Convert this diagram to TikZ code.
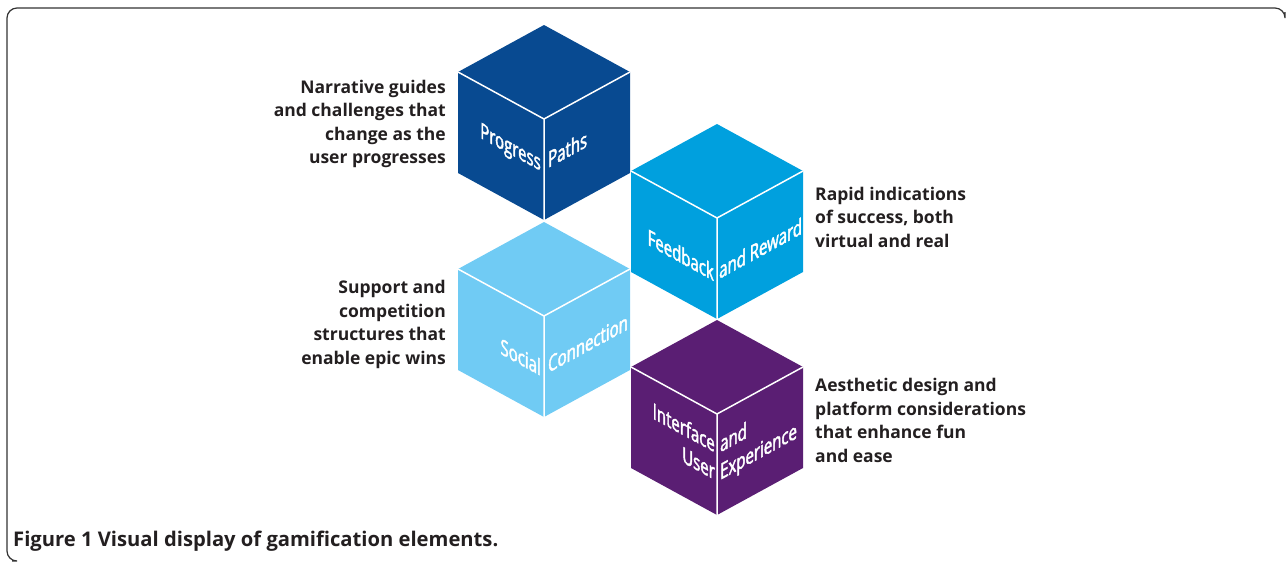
\documentclass[tikz,border=0pt]{standalone}
\usepackage{fontspec}
\setmainfont{Open Sans}
\newfontfamily\cubefont[FakeStretch=0.68,FakeBold=2]{Open Sans}
\usepackage{tikz}

\definecolor{pathblue}{RGB}{8,74,145}
\definecolor{rewardblue}{RGB}{0,160,222}
\definecolor{socialblue}{RGB}{112,203,244}
\definecolor{uxpurple}{RGB}{90,30,115}
\definecolor{notegray}{RGB}{35,31,32}

\tikzset{
  note/.style={font=\bfseries\fontsize{17.5}{23.5}\selectfont,text=notegray,inner sep=0},
  facetext/.style={font=\cubefont\fontsize{22}{27.5}\selectfont,text=white,inner sep=0},
  edge/.style={white,line width=1.5},
}

\begin{document}
\begin{tikzpicture}[x=1pt,y=-1pt]
\useasboundingbox (0,0) rectangle (1287,562);
\draw [rounded corners=10,line width=1.2,black!80] (12,561) -- (7,561) -- (7,8) -- (1285,8) -- (1285,12);

\coordinate (pp) at (544,119);
\coordinate (fr) at (717,218);
\coordinate (sc) at (544,316);
\coordinate (ux) at (717,414);

\fill [pathblue] (pp) ++(0,-94) -- ++(86,47) -- ++(0,101) -- ++(-86,47) -- ++(-86,-47) -- ++(0,-101) -- cycle;
\fill [rewardblue] (fr) ++(0,-94) -- ++(86,47) -- ++(0,101) -- ++(-86,47) -- ++(-86,-47) -- ++(0,-101) -- cycle;
\fill [socialblue] (sc) ++(0,-94) -- ++(86,47) -- ++(0,101) -- ++(-86,47) -- ++(-86,-47) -- ++(0,-101) -- cycle;
\fill [uxpurple] (ux) ++(0,-94) -- ++(86,47) -- ++(0,101) -- ++(-86,47) -- ++(-86,-47) -- ++(0,-101) -- cycle;

\draw [edge] (pp) -- ++(-86,-47) (pp) -- ++(86,-47) (pp) -- ++(0,101);
\draw [edge] (fr) -- ++(-86,-47) (fr) -- ++(86,-47) (fr) -- ++(0,101);
\draw [edge] (sc) -- ++(-86,-47) (sc) -- ++(86,-47) (sc) -- ++(0,101);
\draw [edge] (ux) -- ++(-86,-47) (ux) -- ++(86,-47) (ux) -- ++(0,101);

\node [facetext,anchor=base east,yslant=-0.547] (progress) at (541,171) {Progress};
\node [facetext,anchor=base west,yslant=0.547] (paths) at (548,168) {Paths};
\node [facetext,anchor=base east,yslant=-0.547] (feedback) at (714,281) {Feedback};
\node [facetext,anchor=base west,yslant=0.547] (reward) at (719,279) {and Reward};
\node [facetext,anchor=base east,yslant=-0.547] (social) at (541,376) {Social};
\node [facetext,anchor=base west,yslant=0.547] (connection) at (548,373) {Connection};
\node [facetext,anchor=base east,yslant=-0.547,align=right] (interface) at (715,480) {Interface\\User};
\node [facetext,anchor=base west,yslant=0.547,align=left] (experience) at (720,480) {and\\Experience};

\node [note,anchor=north east,align=right] (ppnote) at (446,80) {Narrative guides\\and challenges that\\change as the\\user progresses};
\node [note,anchor=north west,align=left] (frnote) at (815,187) {Rapid indications\\of success, both\\virtual and real};
\node [note,anchor=north east,align=right] (scnote) at (446,280) {Support and\\competition\\structures that\\enable epic wins};
\node [note,anchor=north west,align=left] (uxnote) at (815,378) {Aesthetic design and\\platform considerations\\that enhance fun\\and ease};

\node [note,font=\bfseries\fontsize{20.2}{24}\selectfont,anchor=west] (caption) at (13,541) {Figure 1 Visual display of gamification elements.};
\end{tikzpicture}
\end{document}
